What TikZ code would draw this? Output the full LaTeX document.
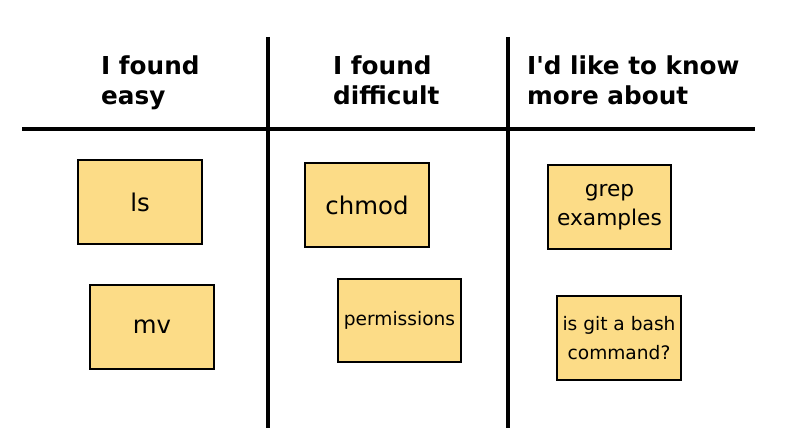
\documentclass[tikz,border=0pt]{standalone}
\usepackage{fontspec}
\setmainfont{DejaVu Sans}
\usetikzlibrary{positioning}
\definecolor{notefill}{HTML}{FCDC87}

\begin{document}
\begin{tikzpicture}[x=1bp,y=-1bp,
    head/.style={anchor=base west,align=left,inner sep=0pt,
      font={\fontsize{24.7bp}{30bp}\selectfont\bfseries}},
    note/.style={draw,line width=1.8bp,fill=notefill,minimum width=124bp,
      minimum height=84bp,inner sep=0pt,align=center},
    big/.style={font={\fontsize{24.4bp}{29bp}\selectfont}},
    mid/.style={font={\fontsize{21.7bp}{29bp}\selectfont}},
    small/.style={font={\fontsize{18.6bp}{29bp}\selectfont}}]
  \useasboundingbox (0,0) rectangle (800,444);

  % the board
  \draw[line width=4bp] (22,129) -- (755,129);
  \draw[line width=4bp] (268,37) -- (268,428);
  \draw[line width=4bp] (508,37) -- (508,428);

  % column titles
  \node[head] (easy) at (101,105) {I found\\easy};
  \node[head] (hard) at (333,105) {I found\\difficult};
  \node[head] (more) at (527,105) {I\textquotesingle d like to know\\more about};

  % sticky notes
  \node[note,big] (ls) at (140,202) {ls};
  \node[note,big] (mv) at (152,327) {mv};
  \node[note,big] (chmod) at (367,205) {chmod};
  \node[note,small,minimum width=123bp,minimum height=83bp] (perm) at (399.5,320.5) {permissions};
  \node[note,mid,minimum width=123bp] (grep) at (609.5,207) {grep\\examples};
  \node[note,small] (git) at (619,338) {is git a bash\\command?};
\end{tikzpicture}
\end{document}
